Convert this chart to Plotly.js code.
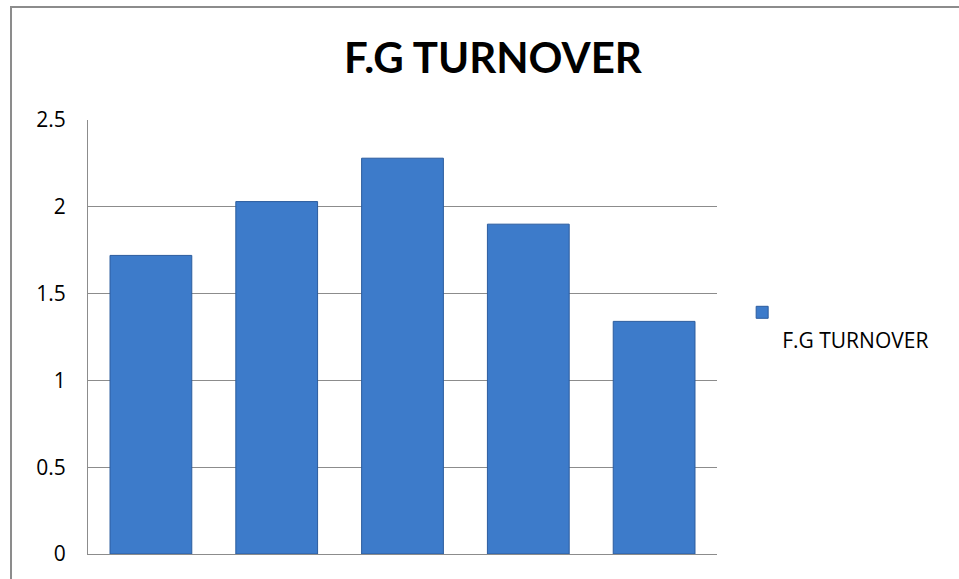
<!DOCTYPE html>
<html>
<head>
<meta charset="utf-8">
<script src="https://cdn.plot.ly/plotly-3.0.1.min.js"></script>
<style>
  html, body { margin: 0; padding: 0; background: #ffffff; }
  #chart { width: 959px; height: 579px; }
</style>
</head>
<body>
<div id="chart"></div>
<script>
// chart data
const categories = ['1', '2', '3', '4', '5'];
const turnoverValues = [1.72, 2.03, 2.28, 1.9, 1.34];
const seriesName = 'F.G TURNOVER';
const chartTitle = 'F.G TURNOVER';

const titleFont = 'Lato, "Open Sans", sans-serif';
const bodyFont = '"Open Sans", Lato, sans-serif';

let trace = {
    x: categories,
    y: turnoverValues,
    type: 'bar',
    // leading break so the text sits below the legend swatch, as in the original
    name: ' <br>' + seriesName,
    marker: {
        color: '#3D7BCA',
        line: { color: '#2B5C9E', width: 1 }
    },
    showlegend: true
};

let layout = {
    width: 959,
    height: 579,
    margin: { l: 88, r: 242, t: 120, b: 25 },
    paper_bgcolor: '#ffffff',
    plot_bgcolor: '#ffffff',
    bargap: 0.35,
    font: { family: bodyFont, color: '#000000', size: 20 },
    title: {
        text: '<b>' + chartTitle + '</b>',
        font: { family: titleFont, size: 42, color: '#000000' },
        x: 0.514,
        xanchor: 'center',
        y: 0.9,
        yanchor: 'middle'
    },
    xaxis: {
        showticklabels: false,
        showgrid: false,
        zeroline: false,
        showline: true,
        linecolor: '#8c8c8c',
        linewidth: 1,
        ticks: ''
    },
    yaxis: {
        range: [0, 2.5],
        tickvals: [0, 0.5, 1, 1.5, 2, 2.5],
        ticktext: ['0', '0.5', '1', '1.5', '2', '2.5'],
        showgrid: true,
        gridcolor: '#8c8c8c',
        gridwidth: 1,
        zeroline: false,
        showline: true,
        linecolor: '#8c8c8c',
        linewidth: 1,
        ticks: '',
        ticklabelstandoff: 17,
        tickfont: { family: bodyFont, size: 21, color: '#000000' }
    },
    legend: {
        x: 1.04,
        xanchor: 'left',
        y: 0.525,
        yanchor: 'middle',
        valign: 'top',
        font: { family: bodyFont, size: 21, color: '#000000' },
        bgcolor: 'rgba(0,0,0,0)'
    },
    shapes: [{
        type: 'rect',
        xref: 'paper',
        yref: 'paper',
        x0: -0.1224,
        x1: 1.6,
        y0: -0.3,
        y1: 1.2604,
        line: { color: '#8c8c8c', width: 2 },
        fillcolor: 'rgba(0,0,0,0)',
        layer: 'below'
    }]
};

let config = { staticPlot: true, displayModeBar: false };

Plotly.newPlot('chart', [trace], layout, config);
</script>
</body>
</html>
